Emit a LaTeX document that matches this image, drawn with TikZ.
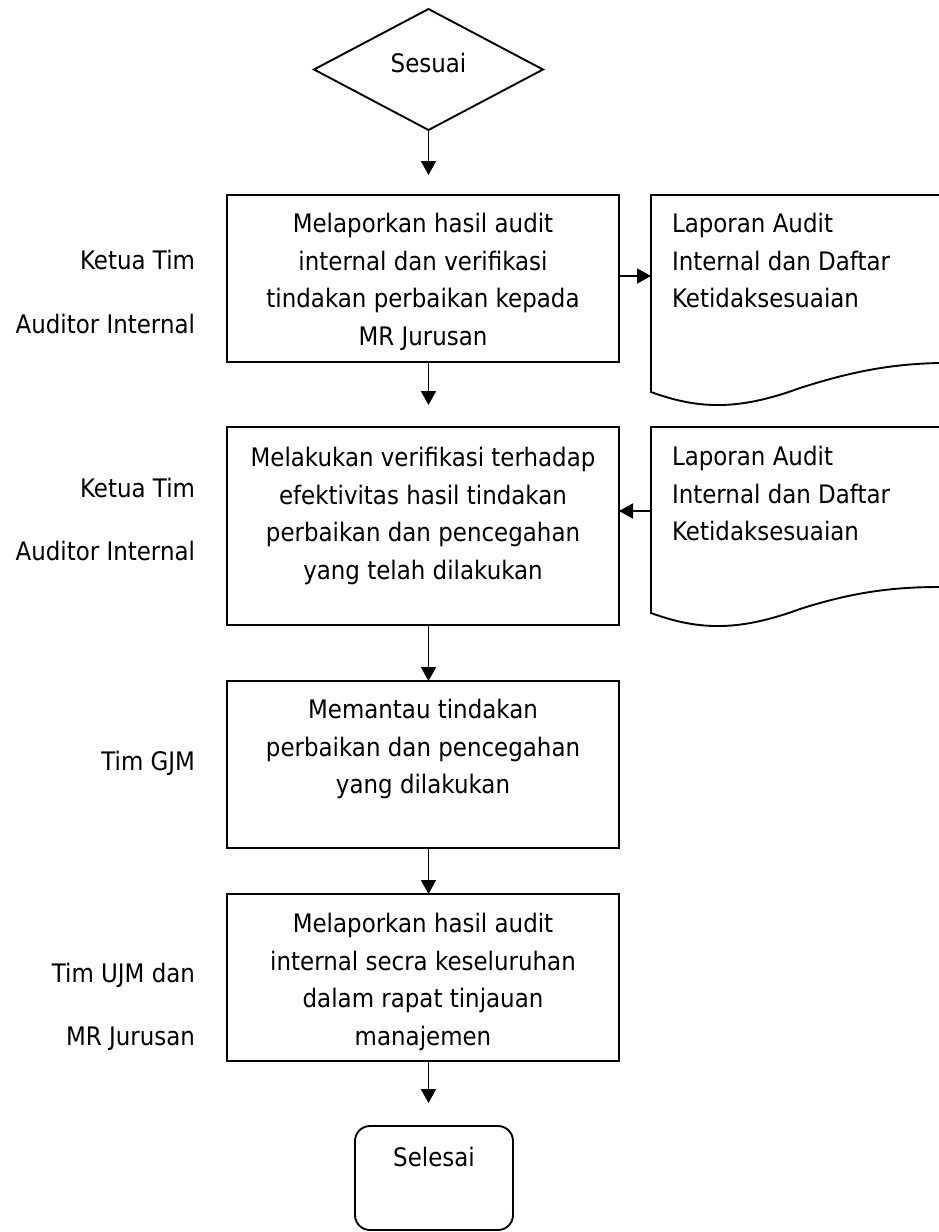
\documentclass[tikz,border=0pt]{standalone}
\usepackage{fontspec}
\setmainfont{DejaVu Sans}[FakeStretch=0.9]
\usetikzlibrary{shapes.geometric,arrows.meta}
\begin{document}
\begin{tikzpicture}[x=1pt,y=-1pt,
  every node/.style={font=\fontsize{25.5}{37.5}\selectfont, inner sep=0pt, outer sep=0pt},
  box/.style={draw, line width=1.9pt, minimum width=392pt},
  btext/.style={align=center, anchor=north},
  arr/.style={line width=1.9pt, -{Triangle[length=14pt,width=15pt]}},
  lab/.style={anchor=base east},
  docshape/.style={draw, line width=1.9pt},
  dtext/.style={anchor=north west, align=left},
]
\useasboundingbox (0,0) rectangle (939,1232);
\clip (0,0) rectangle (939,1232);

% decision
\node[draw, diamond, line width=1.9pt, minimum width=229pt, minimum height=121pt,
      text height=19.4pt, text depth=14.4pt] (d) at (428.5,69.5) {Sesuai};

% process boxes
\node[box, minimum height=167pt] (b1) at (423,278.5) {};
\node[btext] (t1) at (423,213.3) {Melaporkan hasil audit\\internal dan verifikasi\\tindakan perbaikan kepada\\MR Jurusan};

\node[box, minimum height=198pt] (b2) at (423,526) {};
\node[btext] (t2) at (423,447.3) {Melakukan verifikasi terhadap\\efektivitas hasil tindakan\\perbaikan dan pencegahan\\yang telah dilakukan};

\node[box, minimum height=167pt] (b3) at (423,764.5) {};
\node[btext] (t3) at (423,699.3) {Memantau tindakan\\perbaikan dan pencegahan\\yang dilakukan};

\node[box, minimum height=167pt] (b4) at (423,977.5) {};
\node[btext] (t4) at (423,913.3) {Melaporkan hasil audit\\internal secra keseluruhan\\dalam rapat tinjauan\\manajemen};

% terminator
\node[draw, line width=1.9pt, rounded corners=15pt, minimum width=158pt, minimum height=104pt] (s) at (434,1178) {};
\node[btext] (st) at (434,1147.6) {Selesai};

% documents
\draw[docshape] (960,195) -- (651,195) -- (651,392)
  .. controls (700,410) and (740,410) .. (800,388)
  .. controls (850,372) and (890,364) .. (939,363) -- (960,363);
\node[dtext] (dt1) at (672,213.3) {Laporan Audit\\Internal dan Daftar\\Ketidaksesuaian};
\coordinate (d1in) at (651,276);

\draw[docshape] (960,427) -- (651,427) -- (651,613)
  .. controls (700,631) and (740,631) .. (800,609)
  .. controls (850,593) and (890,587) .. (939,587) -- (960,587);
\node[dtext] (dt2) at (672,446.3) {Laporan Audit\\Internal dan Daftar\\Ketidaksesuaian};
\coordinate (d2out) at (651,511);

% side labels
\node[lab] (l1a) at (195,269) {Ketua Tim};
\node[lab] (l1b) at (195,333) {Auditor Internal};
\node[lab] (l2a) at (195,497) {Ketua Tim};
\node[lab] (l2b) at (195,560) {Auditor Internal};
\node[lab] (l3a) at (195,770) {Tim GJM};
\node[lab] (l4a) at (195,982) {Tim UJM dan};
\node[lab] (l4b) at (195,1045) {MR Jurusan};

% connectors
\draw[arr, shorten >=20pt] (d.south) -- (d.south |- b1.north);
\draw[arr] (b1.east |- d1in) -- (d1in);
\draw[arr, shorten >=22pt] (b1.south -| d.south) -- (b2.north -| d.south);
\draw[arr] (d2out) -- (d2out -| b2.east);
\draw[arr] (b2.south -| d.south) -- (b3.north -| d.south);
\draw[arr] (b3.south -| d.south) -- (b4.north -| d.south);
\draw[arr, shorten >=23pt] (b4.south -| d.south) -- (s.north -| d.south);
\end{tikzpicture}
\end{document}
